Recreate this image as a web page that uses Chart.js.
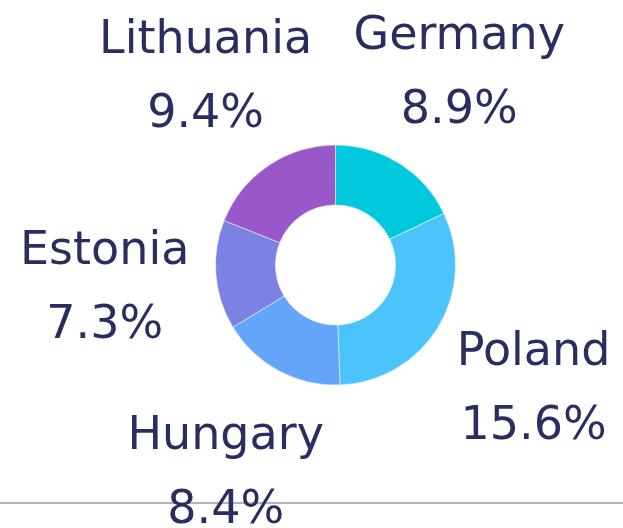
<!DOCTYPE html>
<html>
<head>
<meta charset="utf-8">
<script src="https://cdn.jsdelivr.net/npm/chart.js@4"></script>
<style>
  html, body { margin: 0; padding: 0; background: #ffffff; }
  #wrap { width: 623px; height: 528px; position: relative; }
</style>
</head>
<body>
<div id="wrap"><canvas id="graficoPaises"></canvas></div>
<script>
const paises = ['Germany', 'Poland', 'Hungary', 'Estonia', 'Lithuania'];
const percentuais = [8.9, 15.6, 8.4, 7.3, 9.4];
const cores = ['#00c9dd', '#4bc4fb', '#63a6f9', '#7b82e4', '#9858c9'];

const corTexto = '#2a2d60';

// linha cinza de fundo
const linhaBase = {
    id: 'linhaBase',
    beforeDraw(chart) {
        const ctx = chart.ctx;
        ctx.save();
        ctx.strokeStyle = '#b4b4b4';
        ctx.lineWidth = 2;
        ctx.beginPath();
        ctx.moveTo(0, 503);
        ctx.lineTo(chart.width, 503);
        ctx.stroke();
        ctx.restore();
    }
};

// rotulos fora das fatias
const rotulosFora = {
    id: 'rotulosFora',
    afterDatasetsDraw(chart) {
        const ctx = chart.ctx;
        const meta = chart.getDatasetMeta(0);
        ctx.save();
        ctx.fillStyle = corTexto;
        ctx.font = '46px "DejaVu Sans"';
        ctx.textAlign = 'center';
        ctx.textBaseline = 'alphabetic';
        meta.data.forEach((arco, i) => {
            const p = arco.getProps(['x', 'y', 'startAngle', 'endAngle', 'outerRadius'], true);
            const meio = (p.startAngle + p.endAngle) / 2;
            const r = p.outerRadius * 1.93;
            const cx = p.x + Math.cos(meio) * r;
            const cy = p.y + Math.sin(meio) * r;
            ctx.fillText(paises[i], cx, cy - 20);
            ctx.fillText(percentuais[i].toFixed(1) + '%', cx, cy + 54);
        });
        ctx.restore();
    }
};

new Chart(document.getElementById('graficoPaises'), {
    type: 'doughnut',
    data: {
        labels: paises,
        datasets: [{
            data: percentuais,
            backgroundColor: cores,
            borderColor: '#ffffff',
            borderWidth: 0.5,
        }],
    },
    options: {
        responsive: true,
        maintainAspectRatio: false,
        animation: false,
        cutout: '50%',
        radius: 120,
        layout: {
            padding: { left: 215, right: 167, top: 145, bottom: 143 },
        },
        plugins: {
            legend: { display: false },
            tooltip: { enabled: false },
        },
    },
    plugins: [linhaBase, rotulosFora],
});
</script>
</body>
</html>
